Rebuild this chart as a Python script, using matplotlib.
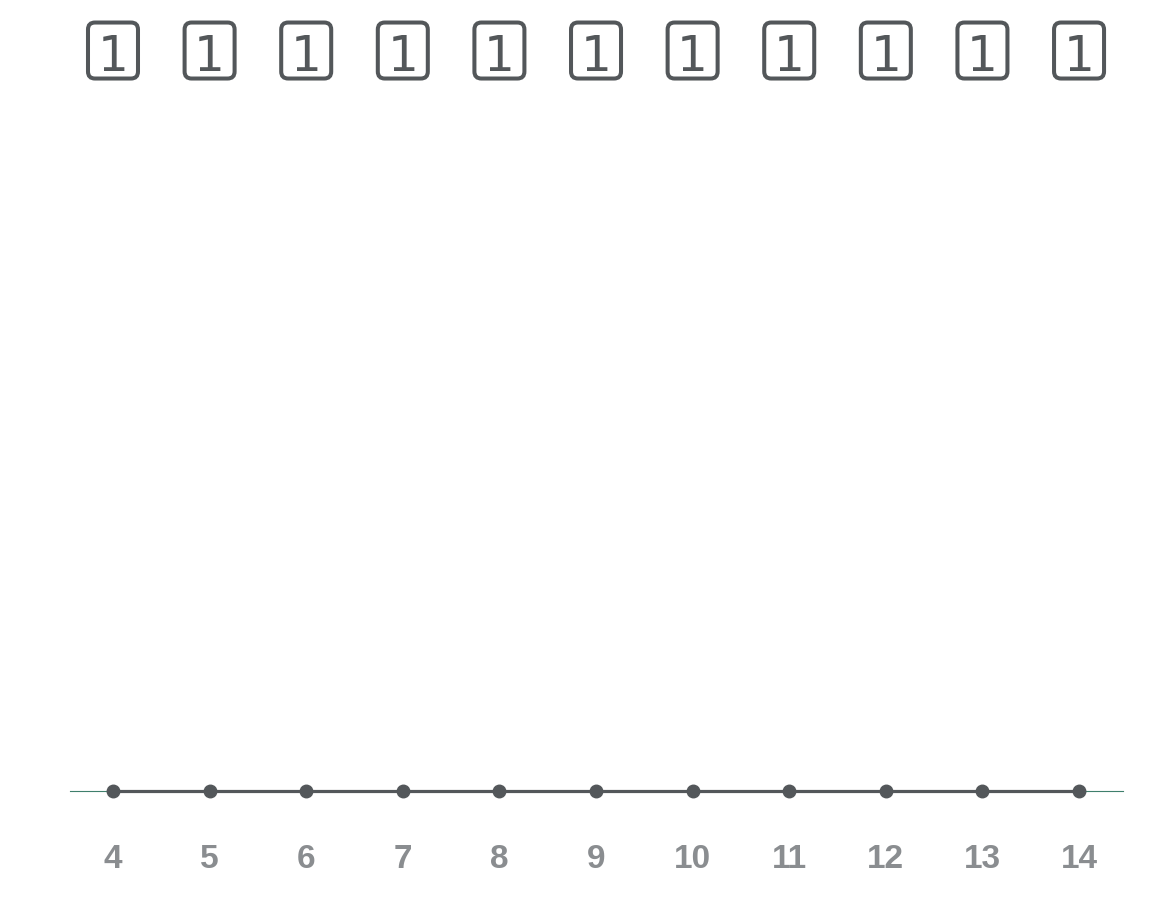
import matplotlib.pyplot as plt
from matplotlib.patches import FancyBboxPatch
from matplotlib.transforms import blended_transform_factory, ScaledTranslation

x_values = [4, 5, 6, 7, 8, 9, 10, 11, 12, 13, 14]
y_values = [0, 0, 0, 0, 0, 0, 0, 0, 0, 0, 0]
counts = [1, 1, 1, 1, 1, 1, 1, 1, 1, 1, 1]

line_color = '#53575a'
label_color = '#8a8d90'

fig = plt.figure(figsize=(11.52, 9.21), dpi=100)
ax = fig.add_axes([70 / 1152, 130 / 921, 1053 / 1152, 681 / 921])

ax.axhline(0, color='#3f7f6c', linewidth=0.8, zorder=1, clip_on=False)
ax.plot(x_values, y_values, color=line_color, linewidth=2.3, marker='o',
        markersize=9, clip_on=False, zorder=3)

ax.set_xlim(3.555, 14.455)
ax.set_ylim(0, 1)

for side in ['top', 'right', 'left', 'bottom']:
    ax.spines[side].set_visible(False)
ax.set_yticks([])
ax.set_xticks(x_values)
ax.set_xticklabels([str(v) for v in x_values], family='Liberation Sans',
                   fontweight='bold', fontsize=24, color=label_color)
ax.tick_params(axis='x', length=0, pad=38)

# count boxes above each point
trans = blended_transform_factory(ax.transData, ax.transAxes)
box_y = 1.0866
for x, c in zip(x_values, counts):
    offset = fig.dpi_scale_trans + ScaledTranslation(x, box_y, trans)
    box = FancyBboxPatch((-0.25, -0.275), 0.50, 0.56,
                         boxstyle='round,pad=0,rounding_size=0.07',
                         transform=offset, fc='white', ec=line_color,
                         lw=2.9, clip_on=False, zorder=4)
    ax.add_artist(box)
    ax.text(x, box_y - 0.002, str(c), transform=trans, ha='center', va='center_baseline',
            family='DejaVu Sans', fontsize=35, color=line_color,
            clip_on=False, zorder=5)

fig.savefig('out.png', dpi=100)
